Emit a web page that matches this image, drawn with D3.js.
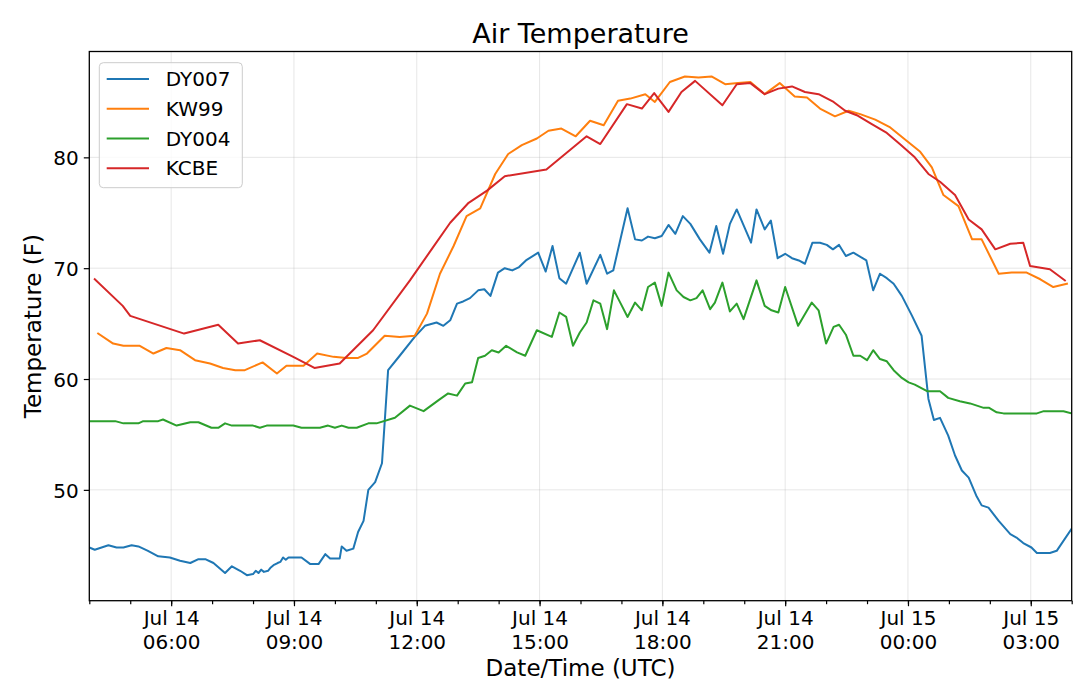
<!DOCTYPE html>
<html>
<head>
<meta charset="utf-8">
<script src="https://cdn.jsdelivr.net/npm/d3@7"></script>
<style>
  html, body { margin: 0; padding: 0; background: #fff; }
  text { font-family: "DejaVu Sans", sans-serif; fill: #000; }
</style>
</head>
<body>
<svg id="chart" width="1080" height="691"></svg>
<script>
// ---- data ----
const stationNames = ["DY007", "KW99", "DY004", "KCBE"];
const stationColors = ["#1f77b4", "#ff7f0e", "#2ca02c", "#d62728"];
const yTickValues = [50, 60, 70, 80];
const xStart = "07-14 04:00";
const xEnd = "07-15 04:00";

const dy007 = [
  ["07-14 04:00", 44.8], ["07-14 04:08", 44.6], ["07-14 04:28", 45.0], ["07-14 04:40", 44.8],
  ["07-14 04:50", 44.8], ["07-14 05:02", 45.0], ["07-14 05:12", 44.9], ["07-14 05:26", 44.5],
  ["07-14 05:41", 44.0], ["07-14 05:58", 43.9], ["07-14 06:13", 43.6], ["07-14 06:28", 43.4],
  ["07-14 06:40", 43.75], ["07-14 06:50", 43.75], ["07-14 07:02", 43.4], ["07-14 07:19", 42.5],
  ["07-14 07:29", 43.1], ["07-14 07:41", 42.7], ["07-14 07:51", 42.3], ["07-14 08:00", 42.4],
  ["07-14 08:04", 42.7], ["07-14 08:08", 42.5], ["07-14 08:12", 42.8], ["07-14 08:16", 42.6],
  ["07-14 08:22", 42.7], ["07-14 08:26", 43.0], ["07-14 08:30", 43.2], ["07-14 08:36", 43.4],
  ["07-14 08:40", 43.5], ["07-14 08:44", 43.9], ["07-14 08:48", 43.7], ["07-14 08:52", 43.9],
  ["07-14 09:04", 43.9], ["07-14 09:11", 43.9], ["07-14 09:24", 43.3], ["07-14 09:36", 43.3],
  ["07-14 09:46", 44.2], ["07-14 09:53", 43.8], ["07-14 10:07", 43.8], ["07-14 10:10", 44.9],
  ["07-14 10:17", 44.5], ["07-14 10:27", 44.7], ["07-14 10:34", 46.2], ["07-14 10:42", 47.2],
  ["07-14 10:49", 50.0], ["07-14 10:59", 50.7], ["07-14 11:09", 52.4], ["07-14 11:18", 60.8],
  ["07-14 11:35", 62.1], ["07-14 11:57", 63.8], ["07-14 12:12", 64.8], ["07-14 12:29", 65.1],
  ["07-14 12:39", 64.8], ["07-14 12:49", 65.3], ["07-14 12:59", 66.8], ["07-14 13:08", 67.0],
  ["07-14 13:18", 67.3], ["07-14 13:30", 68.0], ["07-14 13:39", 68.1], ["07-14 13:48", 67.5],
  ["07-14 13:59", 69.6], ["07-14 14:09", 70.0], ["07-14 14:20", 69.8], ["07-14 14:30", 70.1],
  ["07-14 14:40", 70.7], ["07-14 14:58", 71.4], ["07-14 15:09", 69.7], ["07-14 15:19", 72.0],
  ["07-14 15:29", 69.1], ["07-14 15:39", 68.6], ["07-14 15:59", 71.4], ["07-14 16:09", 68.6],
  ["07-14 16:29", 71.2], ["07-14 16:39", 69.5], ["07-14 16:48", 69.8], ["07-14 17:09", 75.4],
  ["07-14 17:20", 72.6], ["07-14 17:30", 72.5], ["07-14 17:39", 72.85], ["07-14 17:49", 72.7],
  ["07-14 17:59", 72.9], ["07-14 18:09", 73.9], ["07-14 18:19", 73.1], ["07-14 18:30", 74.7],
  ["07-14 18:41", 74.0], ["07-14 18:55", 72.6], ["07-14 19:09", 71.4], ["07-14 19:19", 73.8],
  ["07-14 19:29", 71.3], ["07-14 19:39", 74.0], ["07-14 19:49", 75.3], ["07-14 20:10", 72.3],
  ["07-14 20:18", 75.3], ["07-14 20:30", 73.5], ["07-14 20:39", 74.3], ["07-14 20:49", 70.9],
  ["07-14 21:00", 71.3], ["07-14 21:10", 70.9], ["07-14 21:20", 70.7], ["07-14 21:29", 70.4],
  ["07-14 21:40", 72.3], ["07-14 21:51", 72.3], ["07-14 22:01", 72.1], ["07-14 22:10", 71.7],
  ["07-14 22:19", 72.1], ["07-14 22:29", 71.1], ["07-14 22:40", 71.4], ["07-14 22:59", 70.7],
  ["07-14 23:09", 68.0], ["07-14 23:19", 69.5], ["07-14 23:29", 69.1], ["07-14 23:39", 68.6],
  ["07-14 23:51", 67.5], ["07-15 00:06", 65.7], ["07-15 00:20", 63.9], ["07-15 00:30", 58.2],
  ["07-15 00:38", 56.3], ["07-15 00:47", 56.5], ["07-15 00:59", 54.9], ["07-15 01:09", 53.1],
  ["07-15 01:19", 51.75], ["07-15 01:29", 51.1], ["07-15 01:40", 49.5], ["07-15 01:48", 48.6],
  ["07-15 01:58", 48.4], ["07-15 02:13", 47.2], ["07-15 02:30", 46.0], ["07-15 02:39", 45.7],
  ["07-15 02:49", 45.2], ["07-15 03:01", 44.8], ["07-15 03:09", 44.3], ["07-15 03:28", 44.3],
  ["07-15 03:38", 44.5], ["07-15 04:00", 46.5]
];

const kw99 = [
  ["07-14 04:13", 64.1], ["07-14 04:35", 63.2], ["07-14 04:50", 63.0], ["07-14 05:14", 63.0],
  ["07-14 05:34", 62.3], ["07-14 05:53", 62.8], ["07-14 06:13", 62.6], ["07-14 06:35", 61.7],
  ["07-14 06:57", 61.4], ["07-14 07:16", 61.0], ["07-14 07:34", 60.8], ["07-14 07:48", 60.8],
  ["07-14 08:14", 61.5], ["07-14 08:35", 60.5], ["07-14 08:49", 61.2], ["07-14 09:14", 61.2],
  ["07-14 09:34", 62.3], ["07-14 09:58", 62.0], ["07-14 10:17", 61.9], ["07-14 10:34", 61.9],
  ["07-14 10:47", 62.3], ["07-14 11:13", 63.9], ["07-14 11:35", 63.8], ["07-14 11:57", 63.9],
  ["07-14 12:15", 65.9], ["07-14 12:34", 69.5], ["07-14 12:54", 72.0], ["07-14 13:13", 74.7],
  ["07-14 13:33", 75.4], ["07-14 13:55", 78.5], ["07-14 14:14", 80.3], ["07-14 14:34", 81.1],
  ["07-14 14:56", 81.7], ["07-14 15:13", 82.4], ["07-14 15:32", 82.6], ["07-14 15:53", 81.9],
  ["07-14 16:14", 83.3], ["07-14 16:34", 82.9], ["07-14 16:55", 85.1], ["07-14 17:13", 85.3],
  ["07-14 17:35", 85.7], ["07-14 17:49", 85.0], ["07-14 18:11", 86.8], ["07-14 18:33", 87.3],
  ["07-14 18:53", 87.2], ["07-14 19:12", 87.3], ["07-14 19:32", 86.6], ["07-14 19:51", 86.7],
  ["07-14 20:09", 86.8], ["07-14 20:30", 85.7], ["07-14 20:52", 86.7], ["07-14 21:14", 85.5],
  ["07-14 21:32", 85.4], ["07-14 21:51", 84.4], ["07-14 22:13", 83.7], ["07-14 22:33", 84.2],
  ["07-14 22:50", 83.9], ["07-14 23:12", 83.4], ["07-14 23:34", 82.7], ["07-14 23:58", 81.5],
  ["07-15 00:18", 80.5], ["07-15 00:35", 79.1], ["07-15 00:52", 76.6], ["07-15 01:14", 75.6],
  ["07-15 01:34", 72.6], ["07-15 01:48", 72.6], ["07-15 02:13", 69.5], ["07-15 02:32", 69.6],
  ["07-15 02:54", 69.6], ["07-15 03:14", 69.0], ["07-15 03:33", 68.3], ["07-15 03:53", 68.6]
];

const dy004 = [
  ["07-14 04:00", 56.2], ["07-14 04:38", 56.2], ["07-14 04:50", 56.0], ["07-14 05:12", 56.0],
  ["07-14 05:19", 56.2], ["07-14 05:41", 56.2], ["07-14 05:48", 56.35], ["07-14 06:08", 55.8],
  ["07-14 06:28", 56.1], ["07-14 06:40", 56.1], ["07-14 06:59", 55.6], ["07-14 07:09", 55.6],
  ["07-14 07:19", 56.0], ["07-14 07:29", 55.8], ["07-14 08:00", 55.8], ["07-14 08:10", 55.6],
  ["07-14 08:20", 55.8], ["07-14 08:59", 55.8], ["07-14 09:11", 55.6], ["07-14 09:38", 55.6],
  ["07-14 09:50", 55.8], ["07-14 10:00", 55.6], ["07-14 10:10", 55.8], ["07-14 10:20", 55.6],
  ["07-14 10:32", 55.6], ["07-14 10:49", 56.0], ["07-14 11:01", 56.0], ["07-14 11:28", 56.5],
  ["07-14 11:50", 57.6], ["07-14 12:10", 57.1], ["07-14 12:32", 58.1], ["07-14 12:46", 58.7],
  ["07-14 12:59", 58.5], ["07-14 13:11", 59.6], ["07-14 13:21", 59.7], ["07-14 13:30", 61.9],
  ["07-14 13:40", 62.1], ["07-14 13:50", 62.6], ["07-14 14:00", 62.4], ["07-14 14:11", 63.0],
  ["07-14 14:27", 62.4], ["07-14 14:39", 62.1], ["07-14 14:56", 64.4], ["07-14 15:18", 63.8],
  ["07-14 15:29", 66.0], ["07-14 15:39", 65.6], ["07-14 15:49", 63.0], ["07-14 15:59", 64.2],
  ["07-14 16:09", 65.1], ["07-14 16:19", 67.1], ["07-14 16:29", 66.8], ["07-14 16:39", 64.5],
  ["07-14 16:49", 68.0], ["07-14 16:59", 66.8], ["07-14 17:09", 65.6], ["07-14 17:20", 66.9],
  ["07-14 17:30", 66.2], ["07-14 17:39", 68.3], ["07-14 17:49", 68.7], ["07-14 17:59", 66.6],
  ["07-14 18:09", 69.6], ["07-14 18:21", 68.0], ["07-14 18:31", 67.4], ["07-14 18:41", 67.1],
  ["07-14 18:50", 67.3], ["07-14 18:59", 68.0], ["07-14 19:10", 66.3], ["07-14 19:17", 66.9],
  ["07-14 19:28", 68.7], ["07-14 19:39", 66.1], ["07-14 19:49", 66.8], ["07-14 19:59", 65.4],
  ["07-14 20:18", 68.9], ["07-14 20:30", 66.6], ["07-14 20:40", 66.2], ["07-14 20:50", 66.0],
  ["07-14 21:00", 68.3], ["07-14 21:19", 64.8], ["07-14 21:39", 66.9], ["07-14 21:49", 66.2],
  ["07-14 22:00", 63.2], ["07-14 22:11", 64.7], ["07-14 22:19", 64.9], ["07-14 22:29", 64.0],
  ["07-14 22:40", 62.1], ["07-14 22:50", 62.1], ["07-14 23:00", 61.7], ["07-14 23:09", 62.6],
  ["07-14 23:19", 61.8], ["07-14 23:29", 61.6], ["07-14 23:39", 60.8], ["07-14 23:51", 60.1],
  ["07-15 00:01", 59.7], ["07-15 00:10", 59.5], ["07-15 00:28", 58.9], ["07-15 00:47", 58.9],
  ["07-15 00:59", 58.3], ["07-15 01:16", 58.0], ["07-15 01:31", 57.8], ["07-15 01:51", 57.4],
  ["07-15 01:59", 57.4], ["07-15 02:10", 57.0], ["07-15 02:20", 56.9], ["07-15 03:09", 56.9],
  ["07-15 03:19", 57.1], ["07-15 03:48", 57.1], ["07-15 04:00", 56.9]
];

const kcbe = [
  ["07-14 04:08", 69.0], ["07-14 04:49", 66.6], ["07-14 05:00", 65.7], ["07-14 06:19", 64.1],
  ["07-14 07:09", 64.9], ["07-14 07:38", 63.2], ["07-14 08:10", 63.5], ["07-14 08:59", 62.0],
  ["07-14 09:30", 61.0], ["07-14 10:07", 61.4], ["07-14 10:56", 64.4], ["07-14 11:50", 68.9],
  ["07-14 12:24", 71.9], ["07-14 12:49", 74.1], ["07-14 13:16", 75.9], ["07-14 13:43", 77.0],
  ["07-14 14:09", 78.3], ["07-14 15:10", 78.9], ["07-14 16:09", 81.9], ["07-14 16:29", 81.2],
  ["07-14 17:08", 84.8], ["07-14 17:30", 84.4], ["07-14 17:48", 85.8], ["07-14 18:09", 84.1],
  ["07-14 18:28", 85.9], ["07-14 18:48", 86.9], ["07-14 19:28", 84.7], ["07-14 19:49", 86.6],
  ["07-14 20:09", 86.7], ["07-14 20:30", 85.7], ["07-14 20:50", 86.2], ["07-14 21:10", 86.4],
  ["07-14 21:29", 85.9], ["07-14 21:49", 85.7], ["07-14 22:11", 85.0], ["07-14 22:28", 84.2],
  ["07-14 22:45", 83.8], ["07-14 23:07", 83.0], ["07-14 23:29", 82.2], ["07-14 23:48", 81.2],
  ["07-15 00:10", 80.0], ["07-15 00:30", 78.5], ["07-15 00:47", 77.8], ["07-15 01:09", 76.6],
  ["07-15 01:29", 74.4], ["07-15 01:48", 73.5], ["07-15 02:08", 71.7], ["07-15 02:30", 72.2],
  ["07-15 02:49", 72.3], ["07-15 02:59", 70.2], ["07-15 03:28", 69.9], ["07-15 03:50", 68.9]
];

const seriesData = [dy007, kw99, dy004, kcbe];

// ---- layout ----
const width = 1080, height = 691;
const margin = {top: 51.5, right: 8.3, bottom: 90.3, left: 89.3};
const plotW = width - margin.left - margin.right;
const plotH = height - margin.top - margin.bottom;

const parseTime = d3.utcParse("%m-%d %H:%M");
const fmtDay = d3.utcFormat("%b %d");
const fmtHour = d3.utcFormat("%H:%M");

const x = d3.scaleUtc().domain([parseTime(xStart), parseTime(xEnd)]).range([0, plotW]);
const y = d3.scaleLinear().domain([40.0, 89.55]).range([plotH, 0]);

const svg = d3.select("#chart");
svg.append("rect").attr("width", width).attr("height", height).attr("fill", "#fff");

const g = svg.append("g").attr("transform", `translate(${margin.left},${margin.top})`);

const majorTicks = x.ticks(d3.utcHour.every(3));
const minorTicks = x.ticks(d3.utcHour.every(1));

// grid
g.append("g").selectAll("line.vgrid")
  .data(majorTicks).enter().append("line")
  .attr("x1", d => x(d)).attr("x2", d => x(d))
  .attr("y1", 0).attr("y2", plotH)
  .attr("stroke", "#b0b0b0").attr("stroke-opacity", 0.3).attr("stroke-width", 1);
g.append("g").selectAll("line.hgrid")
  .data(yTickValues).enter().append("line")
  .attr("x1", 0).attr("x2", plotW)
  .attr("y1", d => y(d)).attr("y2", d => y(d))
  .attr("stroke", "#b0b0b0").attr("stroke-opacity", 0.3).attr("stroke-width", 1);

// lines
svg.append("defs").append("clipPath").attr("id", "plotclip")
  .append("rect").attr("width", plotW).attr("height", plotH);

const line = d3.line()
  .x(d => x(parseTime(d[0])))
  .y(d => y(d[1]));

g.append("g").attr("clip-path", "url(#plotclip)")
  .selectAll("path").data(seriesData).enter().append("path")
  .attr("d", line)
  .attr("fill", "none")
  .attr("stroke", (d, i) => stationColors[i])
  .attr("stroke-width", 2)
  .attr("stroke-linejoin", "round")
  .attr("stroke-linecap", "square");

// axes
const xAxisMinor = d3.axisBottom(x).tickValues(minorTicks).tickSize(3.5).tickFormat("");
const xAxis = d3.axisBottom(x).tickValues(majorTicks).tickSize(5.5).tickFormat("");
const yAxis = d3.axisLeft(y).tickValues(yTickValues).tickSize(5.5).tickPadding(5);

g.append("g").attr("transform", `translate(0,${plotH})`).call(xAxisMinor)
  .call(s => s.select(".domain").remove());
const xg = g.append("g").attr("transform", `translate(0,${plotH})`).call(xAxis);
xg.select(".domain").remove();
xg.selectAll(".tick text").remove();
xg.selectAll(".tick").each(function(d) {
  const t = d3.select(this).append("text")
    .attr("text-anchor", "middle")
    .style("font-size", "20px")
    .attr("fill", "#000");
  t.append("tspan").attr("x", 0).attr("y", 24.5).text(fmtDay(d));
  t.append("tspan").attr("x", 0).attr("y", 48.5).text(fmtHour(d));
});

const yg = g.append("g").call(yAxis);
yg.select(".domain").remove();
yg.selectAll(".tick text").style("font-size", "20px").attr("fill", "#000").attr("dy", "0.36em");

g.selectAll(".tick line").attr("stroke", "#000").attr("stroke-width", 1.2);

// frame
g.append("rect").attr("width", plotW).attr("height", plotH)
  .attr("fill", "none").attr("stroke", "#000").attr("stroke-width", 1.3);

// titles
svg.append("text")
  .attr("x", margin.left + plotW / 2).attr("y", 42.5)
  .attr("text-anchor", "middle")
  .style("font-size", "27px")
  .text("Air Temperature");

svg.append("text")
  .attr("x", margin.left + plotW / 2).attr("y", 676)
  .attr("text-anchor", "middle")
  .style("font-size", "23px")
  .text("Date/Time (UTC)");

svg.append("text")
  .attr("transform", `translate(41,${margin.top + plotH / 2}) rotate(-90)`)
  .attr("text-anchor", "middle")
  .style("font-size", "23px")
  .text("Temperature (F)");

// legend
const legend = svg.append("g").attr("transform", "translate(99.3,62.7)");
legend.append("rect")
  .attr("width", 143).attr("height", 125)
  .attr("rx", 4).attr("ry", 4)
  .attr("fill", "#fff").attr("fill-opacity", 0.8)
  .attr("stroke", "#cccccc").attr("stroke-width", 1);

const rowY = d3.scalePoint().domain(stationNames).range([16.3, 105.6]);
const items = legend.selectAll("g.item").data(stationNames).enter().append("g")
  .attr("transform", d => `translate(0,${rowY(d)})`);
items.append("line")
  .attr("x1", 7.4).attr("x2", 49.7)
  .attr("stroke", (d, i) => stationColors[i]).attr("stroke-width", 2);
items.append("text")
  .attr("x", 66.5).attr("y", 7)
  .style("font-size", "20px")
  .text(d => d);
</script>
</body>
</html>
